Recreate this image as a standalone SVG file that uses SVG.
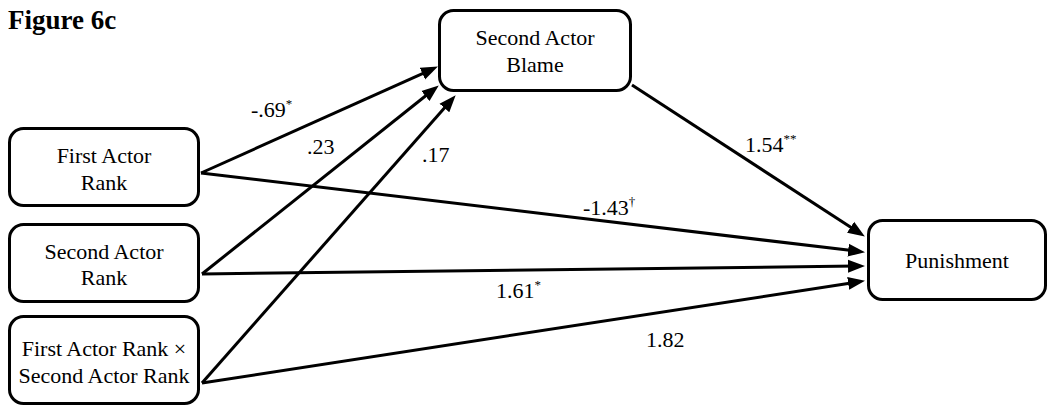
<svg xmlns="http://www.w3.org/2000/svg" width="1050" height="407" viewBox="0 0 1050 407">
<style>
.box{fill:#fff;stroke:#000;stroke-width:3}
.t{font-family:"Liberation Serif","Times New Roman",serif;font-size:22px;fill:#000}
.c{text-anchor:middle}
.sup{font-size:13px}
.ln{fill:none;stroke:#000;stroke-width:3}
</style>
<defs>
<marker id="ah" markerUnits="userSpaceOnUse" markerWidth="18" markerHeight="14" refX="8" refY="7" orient="auto" viewBox="0 0 18 14">
<path d="M0,0.5 L17,7 L0,13.5 z" fill="#000"/>
</marker>
</defs>
<rect width="1050" height="407" fill="#fff"/>
<text x="8" y="29" class="t" font-family="Liberation Serif" style="font-weight:bold;font-size:27px">Figure 6c</text>
<g id="connectors">
<line class="ln" x1="201" y1="173" x2="429.7" y2="70.3" marker-end="url(#ah)"/>
<line class="ln" x1="202" y1="274" x2="431.7" y2="91" marker-end="url(#ah)"/>
<line class="ln" x1="202" y1="383" x2="449.7" y2="102" marker-end="url(#ah)"/>
<line class="ln" x1="201" y1="173" x2="856.1" y2="251.1" marker-end="url(#ah)"/>
<line class="ln" x1="202" y1="274" x2="856" y2="266.1" marker-end="url(#ah)"/>
<line class="ln" x1="202" y1="383" x2="856.1" y2="282.2" marker-end="url(#ah)"/>
<line class="ln" x1="632" y1="85" x2="857.3" y2="231.6" marker-end="url(#ah)"/>
<text class="t" x="251" y="117">-.69<tspan class="sup" dy="-9">*</tspan></text>
<text class="t" x="307" y="154">.23</text>
<text class="t" x="422" y="162">.17</text>
<text class="t" x="583" y="215">-1.43<tspan class="sup" dy="-9">†</tspan></text>
<text class="t" x="745" y="152">1.54<tspan class="sup" dy="-9">**</tspan></text>
<text class="t" x="496" y="298">1.61<tspan class="sup" dy="-9">*</tspan></text>
<text class="t" x="646" y="347">1.82</text>
</g>
<g id="first-actor-rank">
<rect class="box" x="9.5" y="128.5" width="189" height="77" rx="14"/>
<text class="t c" x="104" y="163">First Actor</text>
<text class="t c" x="104" y="190">Rank</text>
</g>
<g id="second-actor-rank">
<rect class="box" x="9.5" y="224.5" width="189" height="77" rx="14"/>
<text class="t c" x="104" y="259">Second Actor</text>
<text class="t c" x="104" y="285">Rank</text>
</g>
<g id="interaction">
<rect class="box" x="9.5" y="316.5" width="189" height="87" rx="14"/>
<text class="t c" x="104" y="356">First Actor Rank ×</text>
<text class="t c" x="104" y="383">Second Actor Rank</text>
</g>
<g id="second-actor-blame">
<rect class="box" x="439.5" y="10.5" width="191" height="80" rx="14"/>
<text class="t c" x="535" y="45">Second Actor</text>
<text class="t c" x="535" y="72">Blame</text>
</g>
<g id="punishment">
<rect class="box" x="868.5" y="220.5" width="177" height="79" rx="14"/>
<text class="t c" x="957" y="268">Punishment</text>
</g>
</svg>
